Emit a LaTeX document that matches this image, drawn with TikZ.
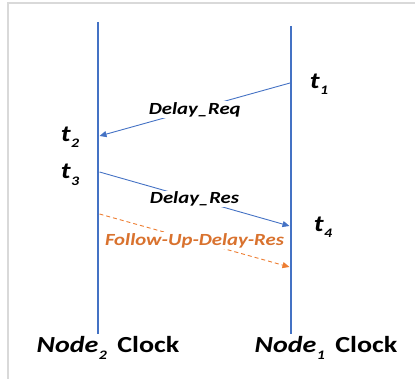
\documentclass[tikz,border=0pt]{standalone}
\usepackage{fontspec}
\setmainfont{Carlito}[
  UprightFont=Carlito,
  BoldFont=Carlito Bold,
  ItalicFont=Carlito Italic,
  BoldItalicFont=Carlito Bold Italic,
  FakeStretch=1.22]
\usetikzlibrary{arrows.meta}
\definecolor{lblue}{HTML}{4472C4}
\definecolor{lorange}{HTML}{ED7D31}
\definecolor{torange}{HTML}{D9722E}
\definecolor{frame}{HTML}{D9D9D9}
\newcommand{\tsub}[2]{\textbf{\textit{#1\kern0.5pt\raisebox{-0.28em}{\fontsize{13}{13}\selectfont #2}}}}
\tikzset{
  clockline/.style={lblue, line width=2.6pt},
  msg/.style={lblue, line width=0.9pt, -{Triangle[length=7pt,width=6pt]}},
  fmsg/.style={lorange, line width=0.9pt, dash pattern=on 4pt off 3pt, -{Triangle[length=7pt,width=6pt]}},
  msglabel/.style={fill=white, inner sep=1pt, font=\fontsize{17}{17}\selectfont\bfseries\itshape},
  tlabel/.style={inner sep=0pt, font=\fontsize{23}{23}\selectfont},
  clocklabel/.style={inner sep=0pt, font=\fontsize{23}{23}\selectfont}
}
\begin{document}
\begin{tikzpicture}[x=1pt,y=-1pt]
\useasboundingbox (0,0) rectangle (415,379);
\draw[frame, line width=1.5pt] (8,379) -- (8,3) -- (415,3);
% clock lines
\coordinate (L0) at (98,22);
\coordinate (L1) at (98,334);
\coordinate (R0) at (291,26);
\coordinate (R1) at (291,334);
\draw[clockline] (L0) -- (L1);
\draw[clockline] (R0) -- (R1);
% event points
\coordinate (e1) at (290,83);
\coordinate (e2) at (99.5,136);
\coordinate (e3) at (99.5,172);
\coordinate (e4) at (289.5,226);
\coordinate (e5) at (99.5,214);
\coordinate (e6) at (289.5,267);
\draw[msg] (e1) -- node[msglabel, text=black] {Delay\_Req} (e2);
\draw[msg] (e3) -- node[msglabel, text=black] {Delay\_Res} (e4);
\draw[fmsg] (e5) -- node[msglabel, text=torange] {Follow-Up-Delay-Res} (e6);
% time labels
\node[tlabel] (t1) at (319,84) {\tsub{t}{1}};
\node[tlabel] (t2) at (70,137) {\tsub{t}{2}};
\node[tlabel] (t3) at (70,175) {\tsub{t}{3}};
\node[tlabel] (t4) at (323,227) {\tsub{t}{4}};
% clock labels
\node[clocklabel] (n2) at (108,348) {\tsub{Node}{2}\hspace{0.45em}\textbf{Clock}};
\node[clocklabel] (n1) at (326,348) {\tsub{Node}{1}\hspace{0.45em}\textbf{Clock}};
\end{tikzpicture}
\end{document}
